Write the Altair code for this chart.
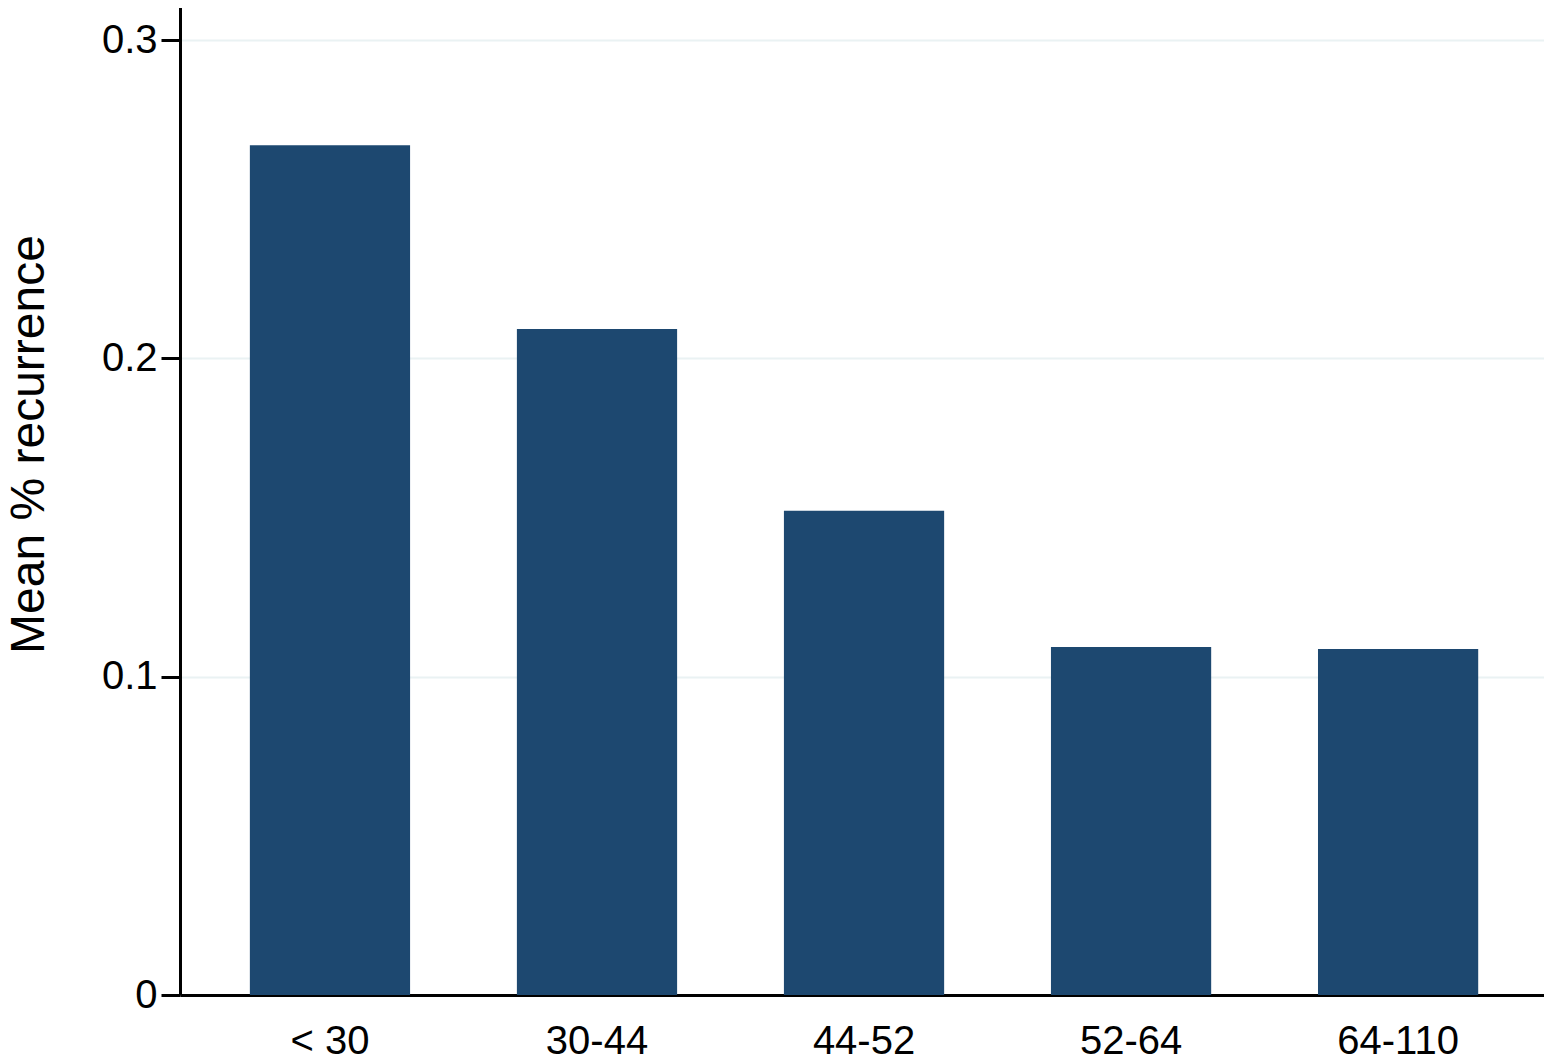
import altair as alt
import pandas as pd

categories = ["< 30", "30-44", "44-52", "52-64", "64-110"]
values = [0.267, 0.2092, 0.1521, 0.1093, 0.1087]
y_ticks = [0, 0.1, 0.2, 0.3]

df = pd.DataFrame({"group": categories, "value": values})

FONT = "Liberation Sans"

chart = alt.Chart(df).mark_bar(color="#1d4870").encode(
    x=alt.X(
        "group:N",
        sort=categories,
        scale=alt.Scale(paddingInner=0.4, paddingOuter=0.254, align=0.515),
        axis=alt.Axis(
            title=None,
            labelAngle=0,
            ticks=False,
            tickSize=0,
            labelPadding=26,
            labelFontSize=40,
            labelFont=FONT,
            labelColor="#000000",
            domainColor="#000000",
            domainWidth=3,
            grid=False,
        ),
    ),
    y=alt.Y(
        "value:Q",
        scale=alt.Scale(domain=[0, 0.3126], nice=False, zero=True),
        axis=alt.Axis(
            title="Mean % recurrence",
            values=y_ticks,
            format="~g",
            labelFontSize=40,
            labelFont=FONT,
            labelColor="#000000",
            labelPadding=4,
            tickSize=19,
            tickWidth=3,
            tickColor="#000000",
            domainColor="#000000",
            domainWidth=3,
            grid=True,
            gridColor="#eaf2f3",
            gridWidth=2,
            titleFont=FONT,
            titleFontSize=48,
            titleFontWeight="normal",
            titleColor="#000000",
            titleAngle=270,
            titleAlign="center",
            titleBaseline="alphabetic",
            titleX=-137,
            titleY=444,
        ),
    ),
).properties(
    width=1364,
    height=995,
    autosize=alt.AutoSizeParams(type="none"),
    padding={"left": 172, "top": -8, "right": 0, "bottom": 67},
).configure_view(stroke=None)

chart.save("out.html", embed_options={"renderer": "svg", "actions": False})
